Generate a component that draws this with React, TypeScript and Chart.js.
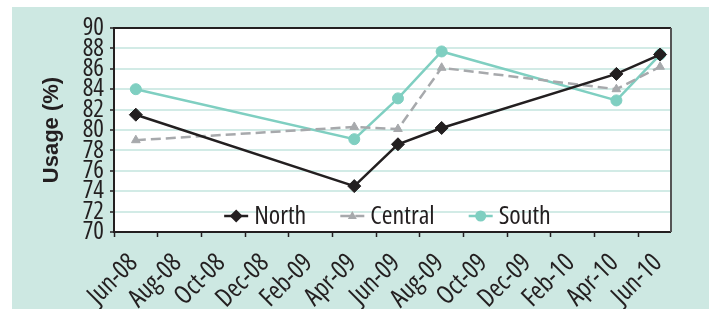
import React, { useEffect, useRef } from "react";
import { Chart, registerables } from "chart.js";

Chart.register(...registerables);

const X_LABELS = [
  "Jun-08", "Aug-08", "Oct-08", "Dec-08", "Feb-09", "Apr-09", "Jun-09",
  "Aug-09", "Oct-09", "Dec-09", "Feb-10", "Apr-10", "Jun-10",
];
// months since Jun-08
const MONTHS = [1, 11, 13, 15, 23, 25];
const NORTH = [81.5, 74.5, 78.6, 80.2, 85.5, 87.4];
const CENTRAL = [79.0, 80.3, 80.1, 86.1, 84.0, 86.2];
const SOUTH = [84.0, 79.1, 83.1, 87.7, 82.9, 87.4];
const Y_MIN = 70;
const Y_MAX = 90;
const Y_STEP = 2;
const X_MIN = 0;
const X_MAX = 25.5;

const FONT = "'Open Sans', 'Liberation Sans', Arial, sans-serif";
const TITLE_FONT = "'Liberation Sans', Arial, sans-serif";
const DARK = "#231f20";
const GRAY = "#a7a9ac";
const TEAL = "#7fcfc1";
const BG = "#cde8e2";
const GRID = "#d2ebe6";
const LABEL_SHIFT = 0.9;

const toPts = (ys: number[]) => MONTHS.map((m, i) => ({ x: m, y: ys[i] }));

const bgPlugin = {
  id: "bgPlugin",
  beforeDraw(chart: any) {
    const { ctx, chartArea, width, height } = chart;
    ctx.save();
    ctx.fillStyle = "#ffffff";
    ctx.fillRect(0, 0, width, height);
    ctx.fillStyle = BG;
    ctx.fillRect(12, 7, width - 12, height - 7);
    ctx.fillStyle = "#ffffff";
    ctx.fillRect(chartArea.left, chartArea.top, chartArea.right - chartArea.left, chartArea.bottom - chartArea.top);
    ctx.restore();
  },
  beforeDatasetsDraw(chart: any) {
    const { ctx, chartArea: a } = chart;
    ctx.save();
    ctx.lineWidth = 2;
    ctx.strokeStyle = DARK;
    ctx.beginPath();
    ctx.moveTo(a.right, a.top);
    ctx.lineTo(a.left, a.top);
    ctx.lineTo(a.left, a.bottom);
    ctx.lineTo(a.right, a.bottom);
    ctx.stroke();
    ctx.strokeStyle = "#555555";
    ctx.beginPath();
    ctx.moveTo(a.right, a.top);
    ctx.lineTo(a.right, a.bottom);
    ctx.stroke();
    ctx.restore();
  },
};

function drawMarker(ctx: CanvasRenderingContext2D, style: string, x: number, y: number, r: number, color: string) {
  ctx.save();
  ctx.setLineDash([]);
  ctx.fillStyle = color;
  ctx.beginPath();
  if (style === "rectRot") {
    ctx.moveTo(x, y - r);
    ctx.lineTo(x + r, y);
    ctx.lineTo(x, y + r);
    ctx.lineTo(x - r, y);
  } else if (style === "triangle") {
    ctx.moveTo(x, y - r);
    ctx.lineTo(x + r * 0.9, y + r * 0.6);
    ctx.lineTo(x - r * 0.9, y + r * 0.6);
  } else {
    ctx.arc(x, y, r, 0, Math.PI * 2);
  }
  ctx.closePath();
  ctx.fill();
  ctx.restore();
}

const legendPlugin = {
  id: "inlineLegend",
  afterDatasetsDraw(chart: any) {
    const { ctx, chartArea: a } = chart;
    const datasets = chart.data.datasets;
    ctx.save();
    ctx.font = `condensed 26px ${FONT}`;
    const lineW = 24;
    const gap = 6;
    const spacing = 34;
    const widths = datasets.map((d: any) => lineW + gap + ctx.measureText(d.label).width);
    const total = widths.reduce((s: number, w: number) => s + w, 0) + spacing * (datasets.length - 1);
    let x = (a.left + a.right) / 2 - 5 - total / 2;
    const y = a.bottom - 16;
    datasets.forEach((d: any, i: number) => {
      ctx.save();
      ctx.strokeStyle = d.borderColor;
      ctx.lineWidth = d.borderWidth;
      ctx.setLineDash(d.borderDash || []);
      ctx.beginPath();
      ctx.moveTo(x, y);
      ctx.lineTo(x + lineW, y);
      ctx.stroke();
      ctx.restore();
      drawMarker(ctx, d.pointStyle, x + lineW / 2, y, d.pointRadius, d.pointBackgroundColor);
      ctx.fillStyle = DARK;
      ctx.textBaseline = "middle";
      ctx.textAlign = "left";
      ctx.fillText(d.label, x + lineW + gap, y + 1);
      x += widths[i] + spacing;
    });
    ctx.restore();
  },
};

const setTicks = (s: any) => {
  s.ticks = X_LABELS.map((_, i) => ({ value: i * 2 }));
};

export default function App() {
  const ref = useRef<HTMLCanvasElement | null>(null);
  useEffect(() => {
    if (!ref.current) return;
    const chart = new Chart(ref.current, {
      type: "line",
      data: {
        datasets: [
          {
            label: "North",
            data: toPts(NORTH),
            borderColor: DARK,
            backgroundColor: DARK,
            pointBackgroundColor: DARK,
            pointBorderColor: DARK,
            borderWidth: 2.5,
            pointStyle: "rectRot",
            pointRadius: 6.5,
            pointBorderWidth: 1,
            tension: 0,
          },
          {
            label: "Central",
            data: toPts(CENTRAL),
            borderColor: GRAY,
            backgroundColor: GRAY,
            pointBackgroundColor: GRAY,
            pointBorderColor: GRAY,
            borderWidth: 2.5,
            borderDash: [10, 5],
            pointStyle: "triangle",
            pointRadius: 5,
            pointBorderWidth: 1,
            tension: 0,
          },
          {
            label: "South",
            data: toPts(SOUTH),
            borderColor: TEAL,
            backgroundColor: TEAL,
            pointBackgroundColor: TEAL,
            pointBorderColor: TEAL,
            borderWidth: 2.5,
            pointStyle: "circle",
            pointRadius: 5.5,
            pointBorderWidth: 1,
            tension: 0,
          },
        ],
      },
      options: {
        responsive: false,
        animation: false,
        layout: { padding: { top: 28, right: 38, bottom: 0, left: 0 } },
        plugins: { legend: { display: false }, tooltip: { enabled: false } },
        scales: {
          x: {
            type: "linear",
            position: "bottom",
            min: X_MIN,
            max: X_MAX,
            weight: 0,
            grid: { display: true, drawOnChartArea: false, drawTicks: true, tickLength: 5, tickColor: DARK, tickWidth: 1.5 },
            border: { display: false },
            ticks: { display: false },
            afterBuildTicks: setTicks,
            afterFit: (s: any) => { s.height = 5; },
          },
          x2: {
            type: "linear",
            position: "bottom",
            min: X_MIN - LABEL_SHIFT,
            max: X_MAX - LABEL_SHIFT,
            weight: 1,
            grid: { display: false },
            border: { display: false },
            ticks: {
              autoSkip: false,
              minRotation: 45,
              maxRotation: 45,
              padding: 3,
              color: DARK,
              font: { family: FONT, size: 26, weight: "condensed" },
              callback: (v: any) => X_LABELS[Math.round(Number(v) / 2)],
            },
            afterBuildTicks: setTicks,
            afterFit: (s: any) => { s.height = 72; },
          },
          y: {
            type: "linear",
            min: Y_MIN,
            max: Y_MAX,
            ticks: { stepSize: Y_STEP, autoSkip: false, padding: 6, color: DARK, font: { family: FONT, size: 25, weight: "condensed" } },
            grid: { color: GRID, lineWidth: 2, tickLength: 4, tickColor: DARK, tickWidth: 1.5 },
            border: { display: false },
            title: {
              display: true,
              text: "Usage (%)",
              color: DARK,
              font: { family: TITLE_FONT, size: 22, weight: "bold" },
              padding: { top: 39, bottom: 0 },
            },
            afterFit: (s: any) => { s.width = 114; },
          },
        },
      },
      plugins: [bgPlugin, legendPlugin],
    } as any);
    return () => chart.destroy();
  }, []);
  return (
    <div style={{ position: "fixed", left: 0, top: 0, width: 709, height: 309 }}>
      <canvas ref={ref} width={709} height={309} style={{ width: 709, height: 309 }} />
    </div>
  );
}
